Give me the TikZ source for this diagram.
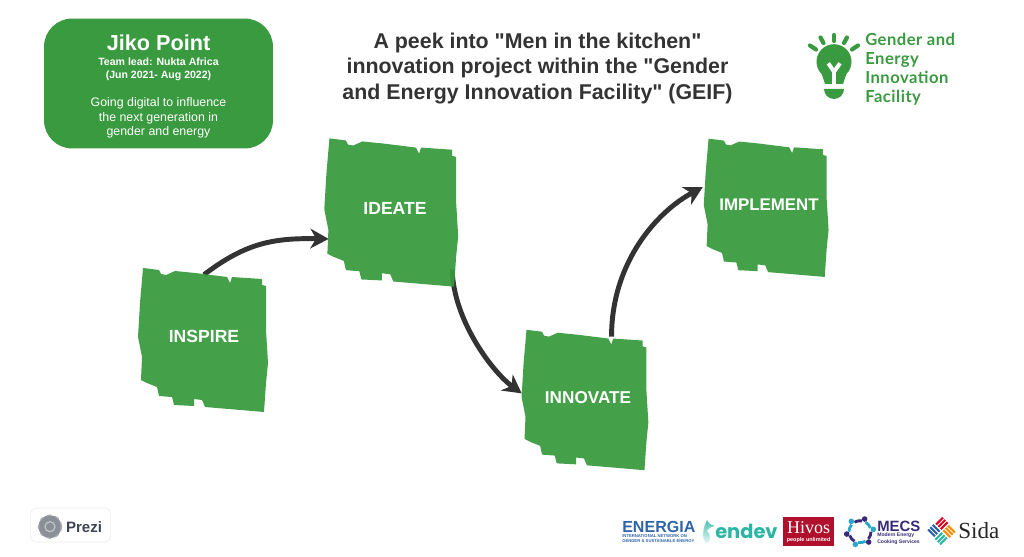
\documentclass[tikz,border=0pt]{standalone}
\usepackage{fontspec}
\setmainfont[Ligatures=TeXOff]{Liberation Sans}
\newfontfamily\logofont[LetterSpace=3]{Lato}
\newfontfamily\endevfont{Poppins}
\newfontfamily\seriffont{Liberation Serif}
\usetikzlibrary{arrows.meta}
\definecolor{geifgreen}{HTML}{3A9A3F}
\definecolor{brushgreen}{HTML}{389B3E}
\definecolor{arrowgrey}{HTML}{333333}
\definecolor{energiablue}{HTML}{2E64A8}
\definecolor{endevteal}{HTML}{2BB5A4}
\definecolor{hivosred}{HTML}{B0102B}
\definecolor{mecspurple}{HTML}{372A78}
\definecolor{mecsblue}{HTML}{2AA7C9}
\definecolor{prezigrey}{HTML}{3D4654}
\pgfdeclarelayer{arrowlayer}
\pgfdeclarelayer{labellayer}
\pgfsetlayers{arrowlayer,main,labellayer}
\tikzset{
    brushlabel/.style={text=white, font=\fontsize{12.5}{15}\bfseries\selectfont, minimum width=93.9pt, minimum height=86.8pt, inner sep=0pt},
    curvearrow/.style={-{Stealth[length=13pt,width=14pt,inset=4pt]}, draw=arrowgrey, line width=3.5pt},
    raystroke/.style={geifgreen, line width=3pt, line cap=round},
    smalllogo/.style={inner sep=0pt, anchor=west, align=left}
}
\newcommand{\jikohead}{\fontsize{15.4}{15}\bfseries\selectfont}
\newcommand{\jikolead}{\fontsize{7.5}{9}\bfseries\selectfont}
\newcommand{\brushnote}[7]{
    \fill[brushgreen, fill opacity=0.94, shift={(#2,#3)}, scale=#7] (-59,-72) -- (-43,-70) -- (-41,-66) -- (-36,-65) -- (-27,-69) -- (-7,-67) -- (25,-63) -- (28,-57) -- (30,-63) -- (60,-61) -- (60,-55) -- (64,-54) -- (64,-10) -- (66,23) -- (64,43) -- (62,72) -- (3,67) -- (0,60) -- (-8,59) -- (-8,66) -- (-28,65) -- (-30,57) -- (-43,56) -- (-45,47) -- (-55,43) -- (-61,40) -- (-60,17) -- (-64,-3) -- (-62,-37) -- cycle;
    \fill[white, fill opacity=0.55, shift={(#2,#3)}, scale=#7] (-60,42) -- (-54,44) -- (-48,47) -- (-46,55) -- (-52,53) -- cycle;
    \begin{pgfonlayer}{labellayer}
        \node[brushlabel] (#1) at (#4,#5) {#6};
    \end{pgfonlayer}
}
\begin{document}
\begin{tikzpicture}[x=0.025cm, y=-0.025cm]
    \useasboundingbox (0,0) rectangle (1024,557);

    \node[fill=geifgreen, rounded corners=20pt, minimum width=162.8pt, minimum height=92.4pt, text=white, align=center, inner sep=0pt, font=\fontsize{8.8}{10.3}\selectfont] (jikobox) at (158.5,83.5)
        {\jikohead\rule{0pt}{15.5pt}Jiko Point\\[0.4pt]
         \jikolead Team lead: Nukta Africa\\[-1.1pt]
         \jikolead (Jun 2021- Aug 2022)\\[9.7pt]
         Going digital to influence\\
         the next generation in\\
         gender and energy};

    \node[font=\fontsize{15.2}{17.8}\bfseries\selectfont, text=arrowgrey, align=center] (headline) at (537.5,68.5)
        {A peek into "Men in the kitchen"\\innovation project within the "Gender\\and Energy Innovation Facility" (GEIF)};

    \fill[geifgreen] (834,61.7) circle (17.5);
    \fill[geifgreen] (821,72) -- (825,84) -- (843,84) -- (847,72) -- cycle;
    \fill[geifgreen] (824,89) -- (844,89) arc[start angle=0, end angle=180, radius=10] -- cycle;
    \draw[white, line width=2.8pt] (828.3,63.3) -- (834,71.7) -- (840,63.3);
    \draw[white, line width=2.8pt] (834,71.7) -- (834,85);
    \draw[raystroke] (834,35) -- (834,41);
    \draw[raystroke] (820.5,37.5) -- (823.5,43);
    \draw[raystroke] (847,37.5) -- (844,43);
    \draw[raystroke] (810,45.5) -- (816,49.5);
    \draw[raystroke] (858,45.5) -- (852,49.5);
    \node[smalllogo, text=geifgreen, font=\logofont\fontsize{11.8}{13.5}\bfseries\selectfont] (geiftext) at (865,69)
        {Gender and\\Energy\\Innovation\\Facility};

    \brushnote{inspire}{202}{340}{204}{336}{INSPIRE}{1}
    \brushnote{ideate}{390.2}{212.5}{395}{208}{IDEATE}{1.03}
    \brushnote{innovate}{584}{400}{588}{398}{\fontsize{12.2}{15}\bfseries\selectfont INNOVATE}{0.975}
    \brushnote{implement}{765.2}{207.8}{769}{205}{\fontsize{12}{15}\bfseries\selectfont IMPLEMENT}{0.96}

    \begin{pgfonlayer}{arrowlayer}
        \draw[curvearrow] (inspire.north) .. controls +(42,-32) and +(-55,-1) .. (ideate.205);
        \draw[curvearrow] (ideate.-47) .. controls +(1,50) and +(-30,-22) .. (innovate.176);
        \draw[curvearrow] (innovate.69) .. controls +(0,-75) and +(-45,24) .. (implement.165);
    \end{pgfonlayer}

    \draw[black!8, fill=white, rounded corners=4pt] (30.7,508) rectangle (110.7,542);
    \fill[prezigrey!60, draw=prezigrey!45, dashed, line width=1pt] (50,526.7) circle (11.5);
    \draw[white!70!prezigrey, line width=0.8pt] (50,526.7) circle (5);
    \node[inner sep=0pt, text=prezigrey, font=\fontsize{10.7}{12}\bfseries\selectfont] (prezitext) at (84,527) {Prezi};

    \node[smalllogo, text=energiablue, font=\fontsize{11.4}{12}\bfseries\selectfont] (energia) at (622,526.5) {ENERGIA};
    \node[smalllogo, text=energiablue, font=\fontsize{3}{3.6}\bfseries\selectfont] (energiasub) at (622,538.5) {INTERNATIONAL NETWORK ON\\GENDER \& SUSTAINABLE ENERGY};

    \shade[top color=endevteal!85, bottom color=endevteal!8] (707,520) .. controls (702,530) and (702,538) .. (706,544) .. controls (712,540) and (711,534) .. (707,531) .. controls (709,528) and (712,526) .. (715,526) .. controls (711,525) and (708,523) .. (707,520) -- cycle;
    \node[smalllogo, text=endevteal, font=\endevfont\fontsize{13.8}{16}\bfseries\selectfont] (endev) at (715,531) {endev};

    \node[fill=hivosred, minimum width=36.5pt, minimum height=20.9pt, inner sep=0pt] (hivosbox) at (808.6,531.3) {};
    \node[inner sep=0pt, text=white, font=\seriffont\fontsize{12.8}{13}\selectfont] (hivos) at (808.6,528) {Hivos};
    \node[inner sep=0pt, text=white, font=\fontsize{3.9}{4}\bfseries\selectfont] (hivossub) at (808.6,540) {people unlimited};

    \foreach \a/\c in {0/mecspurple, 60/mecsblue, 120/mecspurple, 180/mecsblue, 240/mecspurple, 300/mecsblue} {
        \draw[\c, line width=2pt] ({860+11*cos(\a)},{531.7+11*sin(\a)}) arc[start angle=\a, delta angle=40, radius=11];
        \fill[\c] ({860+13.5*cos(\a+50)},{531.7+13.5*sin(\a+50)}) circle (2.8);
    }
    \node[smalllogo, text=mecspurple, font=\fontsize{10.6}{11}\bfseries\selectfont] (mecs) at (877,526) {MECS};
    \node[smalllogo, text=mecspurple, font=\fontsize{3.6}{4.5}\bfseries\selectfont] (mecssub) at (877,538.8) {Modern Energy\\Cooking Services};

    \foreach \r/\c in {0/orange!90!yellow, 90/red!75!violet, 180/energiablue, 270/endevteal} {
        \begin{scope}[shift={(941.5,531)}, rotate=45+\r]
            \foreach \k in {0,1,2} {
                \fill[\c] (0.8+\k*3.3,0.8) rectangle (2.9+\k*3.3,10.5);
            }
        \end{scope}
    }
    \node[smalllogo, text=black!85, font=\seriffont\fontsize{16.4}{17}\selectfont] (sida) at (958,530.5) {Sida};
\end{tikzpicture}
\end{document}
